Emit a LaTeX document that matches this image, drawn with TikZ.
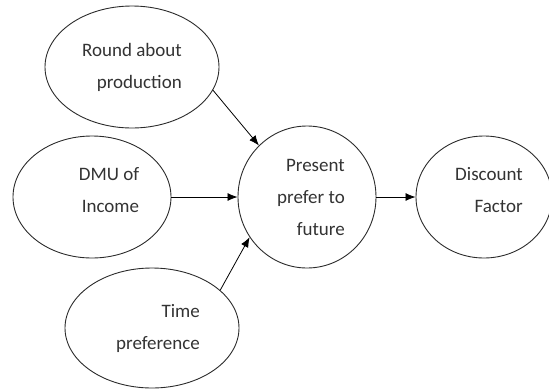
\documentclass[tikz,border=0pt]{standalone}
\usepackage{fontspec}
\setmainfont{Carlito}
\usetikzlibrary{shapes.geometric,arrows.meta}
\definecolor{bubbleline}{HTML}{2B2B2B}
\definecolor{bubbletext}{HTML}{333333}

\begin{document}
\begin{tikzpicture}[x=1pt, y=-1pt,
  bubble/.style={ellipse, draw=bubbleline, line width=0.9pt, inner sep=0pt, align=right,
    text=bubbletext, font=\fontsize{19}{32}\selectfont},
  link/.style={line width=0.8pt, -{Latex[length=10pt,width=8pt]}}]
\useasboundingbox (0,0) rectangle (549,389);
\node[bubble, minimum width=174pt, minimum height=122pt] (round) at (132,67) {Round about\\production};
\node[bubble, minimum width=158pt, minimum height=122pt] (dmu) at (92,197) {\hspace*{34pt}DMU of\\\hspace*{34pt}Income\\[-17pt]\mbox{}};
\node[bubble, minimum width=174pt, minimum height=120pt] (time) at (152,328) {\hspace*{12pt}Time\\\hspace*{12pt}preference};
\node[bubble, minimum width=138pt, minimum height=142pt] (pres) at (307,197) {\hspace*{8pt}Present\\\hspace*{8pt}prefer to\\\hspace*{8pt}future};
\node[bubble, minimum width=136pt, minimum height=122pt] (disc) at (484,197) {\hspace*{10pt}Discount\\\hspace*{10pt}Factor\\[-17pt]\mbox{}};
\draw[link] (round.-16) -- (pres.133);
\draw[link] (dmu) -- (pres);
\draw[link] (time.29) -- (pres.215);
\draw[link] (pres) -- (disc);
\end{tikzpicture}
\end{document}
